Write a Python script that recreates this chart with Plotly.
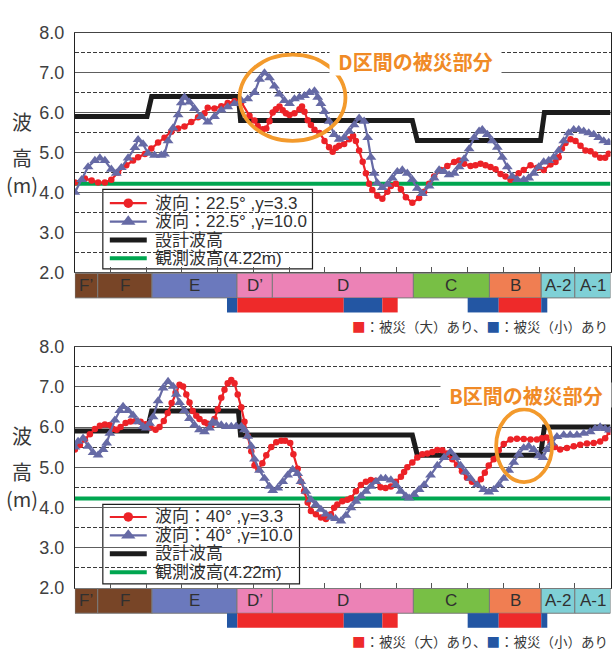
import plotly.graph_objects as go

# ---------------------------------------------------------------- data
# position along the coast (axis units 0–15), wave height in metres

sections = ["F’", "F", "E", "D’", "D", "C", "B", "A-2", "A-1"]
section_edges = [0.0, 0.64, 2.16, 4.54, 5.53, 9.48, 11.61, 13.06, 14.0, 15.0]
section_colors = ["#784527", "#784527", "#6B79BD", "#EC82B6", "#EC82B6",
                  "#78BF45", "#F07E52", "#7FD0D6", "#7FD0D6"]

# damaged stretches: level "L" = 被災(大), "S" = 被災(小)
damage_start = [4.26, 4.55, 7.53, 8.61, 11.00, 11.87, 13.06]
damage_end = [4.55, 7.53, 8.61, 9.04, 11.87, 13.06, 13.23]
damage_level = ["S", "L", "S", "L", "S", "L", "S"]

observed_height = 4.22

design_x = [0.0, 2.02, 2.15, 4.58, 4.64, 9.45, 9.59, 13.04, 13.15, 15.0]
design_height = [5.9, 5.9, 6.4, 6.4, 5.8, 5.8, 5.3, 5.3, 6.0, 6.0]

# wave direction 22.5°, γ = 3.3
top_red_x = [0.00, 0.28, 0.47, 0.65, 0.84, 1.02, 1.21, 1.44, 1.63, 1.77,
             1.96, 2.14, 2.33, 2.51, 2.70, 2.89, 3.07, 3.26, 3.45, 3.63,
             3.72, 3.91, 4.10, 4.28, 4.47, 4.66, 4.89, 5.03, 5.12, 5.26,
             5.36, 5.45, 5.54, 5.63, 5.73, 5.82, 5.91, 6.01, 6.15, 6.29,
             6.36, 6.43, 6.52, 6.61, 6.71, 6.85, 6.99, 7.12, 7.22, 7.31,
             7.40, 7.54, 7.68, 7.79, 7.87, 7.96, 8.06, 8.15, 8.24, 8.33,
             8.47, 8.61, 8.75, 8.85, 8.99, 9.13, 9.27, 9.45, 9.64, 9.78,
             9.92, 10.06, 10.25, 10.43, 10.62, 10.76, 10.90, 11.08, 11.22, 11.36,
             11.50, 11.64, 11.78, 11.92, 12.06, 12.20, 12.29, 12.43, 12.57, 12.76,
             12.95, 13.13, 13.32, 13.46, 13.55, 13.64, 13.74, 13.88, 14.02, 14.16,
             14.30, 14.44, 14.57, 14.71, 14.85, 14.95]
top_red = [4.25, 4.35, 4.30, 4.25, 4.25, 4.32, 4.50, 4.68, 4.80, 4.88,
           4.96, 5.10, 5.25, 5.37, 5.52, 5.60, 5.65, 5.76, 5.88, 5.98,
           6.12, 6.10, 6.16, 6.24, 6.28, 6.26, 5.92, 5.80, 5.66, 5.58,
           5.60, 5.78, 6.00, 6.08, 6.15, 6.06, 5.98, 5.94, 5.98, 6.08,
           6.15, 6.02, 5.81, 5.69, 5.57, 5.49, 5.29, 5.13, 5.02, 5.12,
           5.17, 5.21, 5.33, 5.41, 5.29, 5.05, 4.77, 4.48, 4.22, 4.06,
           3.92, 3.84, 4.02, 4.16, 4.22, 4.08, 3.88, 3.74, 3.86, 4.02,
           4.22, 4.40, 4.56, 4.66, 4.76, 4.80, 4.72, 4.66, 4.68, 4.72,
           4.68, 4.64, 4.58, 4.46, 4.40, 4.32, 4.36, 4.48, 4.56, 4.68,
           4.62, 4.56, 4.70, 4.76, 4.88, 5.10, 5.24, 5.33, 5.29, 5.17,
           5.05, 5.03, 4.95, 4.87, 4.87, 4.97]

# wave direction 22.5°, γ = 10.0
top_blue_x = [0.00, 0.19, 0.37, 0.56, 0.70, 0.84, 1.02, 1.16, 1.30, 1.49,
              1.68, 1.77, 1.91, 2.05, 2.23, 2.42, 2.51, 2.61, 2.75, 2.89,
              2.98, 3.07, 3.21, 3.35, 3.54, 3.72, 3.91, 4.10, 4.28, 4.47,
              4.66, 4.84, 5.03, 5.17, 5.31, 5.45, 5.59, 5.73, 5.87, 6.01,
              6.15, 6.29, 6.43, 6.57, 6.71, 6.80, 6.89, 6.99, 7.12, 7.26,
              7.40, 7.54, 7.68, 7.82, 7.96, 8.10, 8.20, 8.29, 8.38, 8.47,
              8.61, 8.75, 8.89, 9.03, 9.17, 9.31, 9.45, 9.59, 9.73, 9.92,
              10.06, 10.20, 10.34, 10.48, 10.62, 10.76, 10.90, 11.04, 11.18, 11.32,
              11.41, 11.55, 11.69, 11.83, 11.97, 12.11, 12.25, 12.39, 12.57, 12.71,
              12.85, 12.99, 13.13, 13.27, 13.41, 13.55, 13.69, 13.83, 13.97, 14.11,
              14.25, 14.39, 14.53, 14.67, 14.81, 14.95]
top_blue = [4.00, 4.32, 4.64, 4.80, 4.86, 4.80, 4.58, 4.48, 4.62, 4.86,
            5.12, 5.32, 5.21, 4.98, 4.93, 4.93, 4.96, 5.29, 5.61, 5.94,
            6.24, 6.38, 6.26, 6.10, 5.90, 5.76, 5.90, 6.06, 6.14, 6.22,
            6.30, 6.34, 6.50, 6.83, 6.99, 6.87, 6.66, 6.46, 6.30, 6.22,
            6.34, 6.38, 6.42, 6.50, 6.54, 6.38, 6.22, 6.02, 5.78, 5.45,
            5.33, 5.37, 5.53, 5.69, 5.86, 5.78, 5.37, 4.88, 4.48, 4.24,
            4.12, 4.20, 4.36, 4.52, 4.56, 4.48, 4.32, 4.10, 3.97, 4.16,
            4.36, 4.56, 4.52, 4.44, 4.48, 4.64, 4.84, 5.09, 5.37, 5.53,
            5.57, 5.45, 5.29, 5.13, 4.88, 4.64, 4.40, 4.32, 4.32, 4.36,
            4.48, 4.64, 4.76, 4.80, 4.88, 5.05, 5.29, 5.49, 5.57, 5.57,
            5.53, 5.49, 5.45, 5.37, 5.29, 5.25]

# wave direction 40°, γ = 3.3
bot_red_x = [0.00, 0.14, 0.28, 0.42, 0.56, 0.70, 0.84, 0.98, 1.06, 1.17,
             1.28, 1.42, 1.56, 1.70, 1.84, 1.98, 2.12, 2.26, 2.37, 2.49,
             2.60, 2.71, 2.82, 2.93, 3.03, 3.12, 3.21, 3.30, 3.40, 3.49,
             3.63, 3.72, 3.82, 3.91, 4.00, 4.10, 4.19, 4.28, 4.38, 4.47,
             4.56, 4.66, 4.75, 4.84, 4.94, 5.03, 5.14, 5.25, 5.36, 5.50,
             5.64, 5.78, 5.89, 6.03, 6.12, 6.24, 6.33, 6.42, 6.52, 6.61,
             6.75, 6.89, 7.03, 7.17, 7.26, 7.35, 7.49, 7.63, 7.73, 7.87,
             8.01, 8.15, 8.29, 8.43, 8.56, 8.70, 8.85, 8.99, 9.13, 9.22,
             9.31, 9.45, 9.59, 9.73, 9.87, 10.01, 10.15, 10.29, 10.42, 10.57,
             10.70, 10.84, 10.98, 11.12, 11.26, 11.37, 11.48, 11.59, 11.73, 11.87,
             12.01, 12.20, 12.38, 12.57, 12.76, 12.94, 13.08, 13.21, 13.32, 13.44,
             13.59, 13.78, 13.97, 14.15, 14.34, 14.53, 14.71, 14.85, 14.97]
bot_red = [5.44, 5.55, 5.69, 5.82, 5.95, 6.03, 6.06, 6.05, 5.96, 5.93,
           6.00, 6.10, 6.14, 6.15, 6.13, 6.07, 5.98, 5.93, 6.00, 6.15,
           6.35, 6.60, 6.85, 7.05, 7.01, 6.81, 6.61, 6.40, 6.28, 6.20,
           6.12, 6.08, 6.04, 6.20, 6.44, 6.73, 6.93, 7.09, 7.17, 7.09,
           6.81, 6.49, 6.13, 5.77, 5.40, 5.04, 4.95, 5.10, 5.30, 5.50,
           5.62, 5.66, 5.66, 5.60, 5.32, 4.96, 4.64, 4.40, 4.12, 3.91,
           3.83, 3.75, 3.71, 3.83, 3.99, 4.07, 4.15, 4.19, 4.23, 4.40,
           4.56, 4.64, 4.68, 4.66, 4.50, 4.48, 4.52, 4.64, 4.76, 4.88,
           5.00, 5.12, 5.24, 5.32, 5.34, 5.38, 5.43, 5.42, 5.34, 5.20,
           5.06, 4.90, 4.74, 4.64, 4.58, 4.70, 4.86, 5.04, 5.20, 5.42,
           5.58, 5.69, 5.71, 5.70, 5.69, 5.69, 5.72, 5.74, 5.62, 5.50,
           5.44, 5.48, 5.52, 5.56, 5.59, 5.60, 5.64, 5.72, 5.88]

# wave direction 40°, γ = 10.0
bot_blue_x = [0.00, 0.09, 0.23, 0.37, 0.51, 0.65, 0.79, 0.89, 0.98, 1.12,
              1.26, 1.35, 1.49, 1.63, 1.77, 1.91, 2.00, 2.09, 2.19, 2.33,
              2.47, 2.61, 2.75, 2.84, 2.93, 3.07, 3.21, 3.35, 3.49, 3.63,
              3.77, 3.86, 3.96, 4.10, 4.24, 4.38, 4.52, 4.66, 4.75, 4.84,
              4.94, 5.03, 5.17, 5.31, 5.45, 5.54, 5.68, 5.82, 5.96, 6.10,
              6.24, 6.33, 6.47, 6.61, 6.75, 6.89, 7.03, 7.17, 7.30, 7.45,
              7.59, 7.73, 7.87, 8.01, 8.15, 8.29, 8.43, 8.57, 8.70, 8.85,
              8.99, 9.13, 9.27, 9.36, 9.50, 9.64, 9.78, 9.96, 10.15, 10.34,
              10.52, 10.66, 10.80, 10.94, 11.08, 11.27, 11.45, 11.59, 11.73, 11.87,
              12.01, 12.15, 12.29, 12.43, 12.57, 12.71, 12.85, 12.99, 13.11, 13.22,
              13.36, 13.50, 13.69, 13.87, 14.06, 14.25, 14.43, 14.57, 14.71, 14.85,
              14.97]
bot_blue = [5.50, 5.64, 5.72, 5.52, 5.36, 5.30, 5.44, 5.60, 5.84, 6.17,
            6.41, 6.51, 6.41, 6.29, 6.13, 6.01, 5.97, 6.09, 6.25, 6.65,
            6.97, 7.13, 7.01, 6.81, 6.61, 6.41, 6.21, 6.05, 5.93, 5.88,
            5.97, 6.13, 6.09, 6.05, 6.01, 6.01, 6.02, 6.01, 5.93, 5.77,
            5.52, 5.20, 4.92, 4.72, 4.52, 4.42, 4.48, 4.64, 4.80, 4.94,
            4.84, 4.64, 4.40, 4.19, 4.07, 3.95, 3.83, 3.75, 3.72, 3.66,
            3.80, 3.99, 4.15, 4.28, 4.40, 4.52, 4.64, 4.72, 4.72, 4.68,
            4.56, 4.40, 4.28, 4.23, 4.32, 4.44, 4.56, 4.80, 5.04, 5.24,
            5.38, 5.24, 5.04, 4.88, 4.72, 4.56, 4.44, 4.38, 4.44, 4.56,
            4.72, 4.92, 5.12, 5.32, 5.48, 5.52, 5.44, 5.28, 5.24, 5.44,
            5.60, 5.76, 5.80, 5.80, 5.80, 5.84, 5.88, 5.96, 6.00, 5.96,
            5.92]

y_ticks = [2.0, 3.0, 4.0, 5.0, 6.0, 7.0, 8.0]

for xs, ys in [(top_red_x, top_red), (top_blue_x, top_blue),
               (bot_red_x, bot_red), (bot_blue_x, bot_blue)]:
    assert len(xs) == len(ys)

# ---------------------------------------------------------------- style
W, H = 612, 653
FONT = "Liberation Sans, Noto Sans CJK JP, sans-serif"
JP_FONT = "Noto Sans CJK JP, Liberation Sans, sans-serif"
RED = "#EC2227"
BLUE = "#666AA5"
BLACK = "#1C1C1C"
GREEN = "#00A650"
ORANGE = "#F39A2C"
DMG_COLORS = {"L": "#EE2A2A", "S": "#2356A3"}
TEXT = "#383838"

RED_LINE = dict(color=RED, width=2.2)
RED_MARK = dict(symbol="circle", size=6.5, color=RED)
BLUE_LINE = dict(color=BLUE, width=2.2)
BLUE_MARK = dict(symbol="triangle-up", size=9.5, color=BLUE)
DESIGN_LINE = dict(color=BLACK, width=5)
OBS_LINE = dict(color=GREEN, width=4)


def fx(p):
    """horizontal page pixel -> paper fraction"""
    return p / W


def fy(p):
    """vertical page pixel (from top) -> paper fraction"""
    return 1 - p / H


PLOT_LEFT, PLOT_RIGHT = 75, 611.5
X_DOMAIN = [fx(PLOT_LEFT), fx(PLOT_RIGHT)]
panels = [
    dict(xa="x", ya="y", top=23.3, bottom=270.7,
         legend_box=(103, 313, 185, 267), legend_rows=(199.3, 218.3, 237.3, 256.0),
         red=(top_red_x, top_red), blue=(top_blue_x, top_blue),
         red_name="波向：22.5° ,γ=3.3", blue_name="波向：22.5° ,γ=10.0",
         note="D区間の被災部分", note_box=(331, 502, 39, 67),
         ring=(240, 346, 46, 135)),
    dict(xa="x2", ya="y2", top=347.3, bottom=596.0,
         legend_box=(103, 300, 510, 592), legend_rows=(523.0, 542.0, 561.0, 580.0),
         red=(bot_red_x, bot_red), blue=(bot_blue_x, bot_blue),
         red_name="波向：40° ,γ=3.3", blue_name="波向：40° ,γ=10.0",
         note="B区間の被災部分", note_box=(442, 612, 385, 409),
         ring=(497, 553, 412, 487)),
]

fig = go.Figure()
shapes, annotations = [], []

for i, p in enumerate(panels):
    xa, ya = p["xa"], p["ya"]
    unit_x = (PLOT_RIGHT - PLOT_LEFT) / 15
    unit_y = (p["bottom"] - p["top"]) / 6

    def dx(px, unit_x=unit_x):
        return (px - PLOT_LEFT) / unit_x

    def dy(py, p=p, unit_y=unit_y):
        return 8 - (py - p["top"]) / unit_y

    # design wave height (step line)
    fig.add_trace(go.Scatter(
        x=design_x, y=design_height, xaxis=xa, yaxis=ya, mode="lines",
        line=DESIGN_LINE, name="設計波高", showlegend=False))
    # observed wave height
    fig.add_trace(go.Scatter(
        x=[0, 15], y=[observed_height, observed_height], xaxis=xa, yaxis=ya,
        mode="lines", line=OBS_LINE,
        name=f"観測波高({observed_height:.2f}m)", showlegend=False))
    # simulated heights
    fig.add_trace(go.Scatter(
        x=p["red"][0], y=p["red"][1], xaxis=xa, yaxis=ya, mode="lines+markers",
        line=RED_LINE, marker=RED_MARK, name=p["red_name"], showlegend=False))
    fig.add_trace(go.Scatter(
        x=p["blue"][0], y=p["blue"][1], xaxis=xa, yaxis=ya, mode="lines+markers",
        line=BLUE_LINE, marker=BLUE_MARK, name=p["blue_name"], showlegend=False))

    # ---- legend box drawn in the plot area
    lx0, lx1, ly0, ly1 = p["legend_box"]
    shapes.append(dict(type="rect", xref="paper", yref="paper", layer="between",
                       x0=fx(lx0), x1=fx(lx1), y0=fy(ly1), y1=fy(ly0),
                       fillcolor="white", line=dict(color="#1E1E1E", width=1.2)))
    entries = [
        (p["red_name"], RED_LINE, RED_MARK),
        (p["blue_name"], BLUE_LINE, BLUE_MARK),
        ("設計波高", DESIGN_LINE, None),
        (f"観測波高({observed_height:.2f}m)", OBS_LINE, None),
    ]
    for (label, lstyle, mstyle), row_y in zip(entries, p["legend_rows"]):
        fig.add_trace(go.Scatter(
            x=[dx(lx0 + 7), dx(lx0 + 44)], y=[dy(row_y), dy(row_y)],
            xaxis=xa, yaxis=ya, mode="lines", line=lstyle,
            showlegend=False, hoverinfo="skip"))
        if mstyle is not None:
            fig.add_trace(go.Scatter(
                x=[dx(lx0 + 25.5)], y=[dy(row_y)], xaxis=xa, yaxis=ya,
                mode="markers", marker=dict(mstyle, size=mstyle["size"] + 3),
                showlegend=False, hoverinfo="skip"))
        annotations.append(dict(text=label, xref="paper", yref="paper",
                                x=fx(lx0 + 50), y=fy(row_y), xanchor="left",
                                yanchor="middle", showarrow=False,
                                font=dict(family=FONT, size=17, color="#303030")))

    # ---- section band below the plot
    band_top = p["bottom"] + 0.8
    band_bot = band_top + 25.5
    dmg_bot = band_bot + 15
    for name, x0, x1, col in zip(sections, section_edges[:-1],
                                 section_edges[1:], section_colors):
        shapes.append(dict(type="rect", xref=xa, yref="paper",
                           x0=x0, x1=x1, y0=fy(band_bot), y1=fy(band_top),
                           fillcolor=col, line=dict(color="#7A7A7A", width=1)))
        annotations.append(dict(text=name, xref=xa, yref="paper",
                                x=(x0 + x1) / 2, y=fy((band_top + band_bot) / 2),
                                showarrow=False, xanchor="center", yanchor="middle",
                                font=dict(family=FONT, size=17, color="#303030")))
    for x0, x1, lv in zip(damage_start, damage_end, damage_level):
        shapes.append(dict(type="rect", xref=xa, yref="paper",
                           x0=x0, x1=x1, y0=fy(dmg_bot), y1=fy(band_bot),
                           fillcolor=DMG_COLORS[lv], line=dict(width=0)))
    annotations.append(dict(
        text=(f"<span style='color:{DMG_COLORS['L']}'>■</span>：被災（大）あり、"
              f"<span style='color:{DMG_COLORS['S']}'>■</span>：被災（小）あり"),
        xref="paper", yref="paper", x=fx(611), y=fy(dmg_bot + 13.5),
        xanchor="right", yanchor="middle", showarrow=False,
        font=dict(family=JP_FONT, size=13.5, color=TEXT)))

    # ---- y-axis title, one glyph per line
    for txt, off in [("波", 91.7), ("高", 128.4), ("(m)", 157.0)]:
        annotations.append(dict(text=txt, xref="paper", yref="paper",
                                x=fx(22), y=fy(p["top"] + off),
                                xanchor="center", yanchor="middle", showarrow=False,
                                font=dict(family=JP_FONT, size=20, color=TEXT)))

    # ---- highlighted damage area
    ax0, ax1, ay0, ay1 = p["ring"]
    shapes.append(dict(type="circle", xref=xa, yref=ya, layer="above",
                       x0=dx(ax0), x1=dx(ax1), y0=dy(ay1), y1=dy(ay0),
                       line=dict(color=ORANGE, width=3.8)))
    bx0, bx1, by0, by1 = p["note_box"]
    annotations.append(dict(text=f"<b>{p['note']}</b>", xref="paper", yref="paper",
                            x=fx((bx0 + bx1) / 2), y=fy((by0 + by1) / 2),
                            xanchor="center", yanchor="middle", showarrow=False,
                            width=bx1 - bx0, height=by1 - by0, bgcolor="white",
                            borderpad=0, align="center",
                            font=dict(family=JP_FONT, size=20, color="#F08A26")))

    axis_x = dict(domain=X_DOMAIN, range=[0, 15], dtick=1, tick0=0,
                  ticks="inside", ticklen=5, tickcolor="#555", tickwidth=1,
                  showticklabels=False, showgrid=False, zeroline=False,
                  showline=True, linecolor="#444", linewidth=1, mirror=True,
                  anchor=ya, fixedrange=True)
    axis_y = dict(domain=[fy(p["bottom"]), fy(p["top"])], range=[2, 8],
                  tickvals=y_ticks, ticktext=[f"{v:.1f}" for v in y_ticks],
                  ticks="", ticklabelstandoff=6,
                  tickfont=dict(family=FONT, size=18, color="#404040"),
                  showgrid=True, gridcolor="#5E5E5E", gridwidth=1,
                  minor=dict(dtick=0.5, tick0=0, showgrid=True, gridcolor="#3A3A3A",
                             griddash="4px,2px", gridwidth=1),
                  zeroline=False, showline=True, linecolor="#222", linewidth=1,
                  mirror=True, anchor=xa, fixedrange=True)
    suffix = "" if i == 0 else "2"
    fig.update_layout(**{f"xaxis{suffix}": axis_x, f"yaxis{suffix}": axis_y})

fig.update_layout(
    width=W, height=H, autosize=False,
    margin=dict(l=0, r=0, t=0, b=0),
    paper_bgcolor="white", plot_bgcolor="white",
    shapes=shapes, annotations=annotations, showlegend=False,
    font=dict(family=FONT, color=TEXT),
)

fig.write_html("out.html")
